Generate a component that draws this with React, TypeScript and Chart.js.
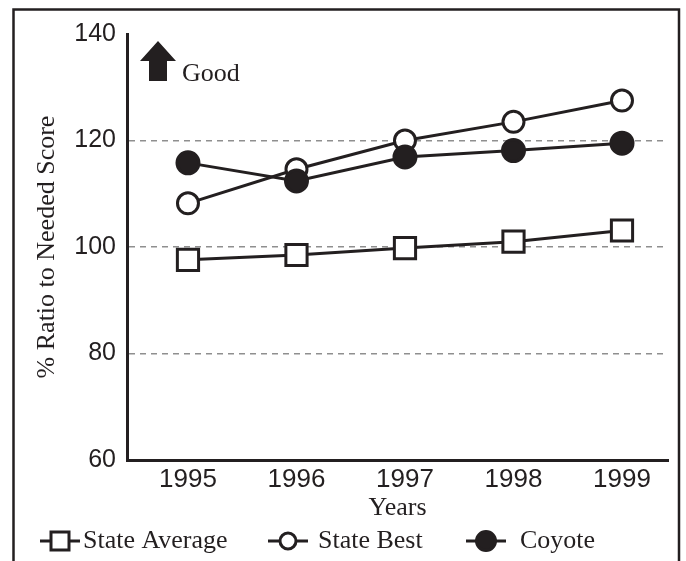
import { useEffect, useRef } from "react";
import { Chart, registerables } from "chart.js";

Chart.register(...registerables);

// ---- data ----
const years = [1995, 1996, 1997, 1998, 1999];
const stateAverage = [97.6, 98.5, 99.8, 101.0, 103.1];
const stateBest = [108.2, 114.6, 120.0, 123.5, 127.5];
const coyote = [115.8, 112.4, 116.9, 118.1, 119.5];
const yTicks = [60, 80, 100, 120, 140];
const gridValues = [80, 100, 120];
const seriesNames = ["State Average", "State Best", "Coyote"];
const yTitle = "% Ratio to Needed Score";
const xTitle = "Years";
const noteText = "Good";

const INK = "#231f20";
const SANS = "'Liberation Sans', Arial, sans-serif";
const SERIF = "'Liberation Serif', 'Times New Roman', serif";

const framePlugin = {
  id: "frameAndNote",
  beforeDraw(chart: any) {
    const ctx = chart.ctx;
    ctx.save();
    ctx.fillStyle = "#ffffff";
    ctx.fillRect(0, 0, chart.width, chart.height);
    ctx.restore();
  },
  afterDraw(chart: any) {
    const ctx = chart.ctx;
    ctx.save();
    // outer frame (bottom edge beyond the picture)
    ctx.strokeStyle = INK;
    ctx.lineWidth = 2.5;
    ctx.beginPath();
    ctx.moveTo(13.5, 600);
    ctx.lineTo(13.5, 9.5);
    ctx.lineTo(679, 9.5);
    ctx.lineTo(679, 600);
    ctx.stroke();
    // "Good" arrow
    ctx.fillStyle = INK;
    ctx.beginPath();
    ctx.moveTo(158, 41);
    ctx.lineTo(176, 61);
    ctx.lineTo(167, 61);
    ctx.lineTo(167, 81);
    ctx.lineTo(149, 81);
    ctx.lineTo(149, 61);
    ctx.lineTo(140, 61);
    ctx.closePath();
    ctx.fill();
    ctx.font = `26px ${SERIF}`;
    ctx.textBaseline = "alphabetic";
    ctx.textAlign = "left";
    ctx.fillText(noteText, 182, 81);

    // legend
    const cy = 541;
    const markerX = [40, 268, 466];
    const textX = [83, 318, 520];
    chart.data.datasets.forEach((ds: any, i: number) => {
      const mx = markerX[i];
      ctx.strokeStyle = INK;
      ctx.lineWidth = 3;
      ctx.beginPath();
      ctx.moveTo(mx, cy);
      ctx.lineTo(mx + 40, cy);
      ctx.stroke();
      const cx = mx + 20;
      ctx.fillStyle = ds.pointBackgroundColor;
      ctx.strokeStyle = ds.pointBorderColor;
      ctx.lineWidth = 3;
      ctx.beginPath();
      if (ds.pointStyle === "rect") {
        ctx.rect(cx - 9, cy - 9, 18, 18);
      } else {
        ctx.arc(cx, cy, ds.legendRadius, 0, Math.PI * 2);
      }
      ctx.fill();
      ctx.stroke();
      ctx.fillStyle = INK;
      ctx.font = `26px ${SERIF}`;
      ctx.textBaseline = "middle";
      ctx.fillText(ds.label, textX[i], cy);
    });
    ctx.restore();
  },
};

export default function App() {
  const ref = useRef<HTMLCanvasElement | null>(null);

  useEffect(() => {
    if (!ref.current) return;
    const toPoints = (vals: number[]) => years.map((yr, i) => ({ x: yr, y: vals[i] }));
    const chart = new Chart(ref.current, {
      type: "line",
      data: {
        datasets: [
          {
            label: seriesNames[0],
            data: toPoints(stateAverage),
            borderColor: INK,
            borderWidth: 3,
            pointStyle: "rect",
            pointRadius: 15,
            pointBorderWidth: 3,
            pointBackgroundColor: "#ffffff",
            pointBorderColor: INK,
            order: 2,
          } as any,
          {
            label: seriesNames[1],
            data: toPoints(stateBest),
            borderColor: INK,
            borderWidth: 3,
            pointStyle: "circle",
            pointRadius: 10.5,
            pointBorderWidth: 3,
            pointBackgroundColor: "#ffffff",
            pointBorderColor: INK,
            legendRadius: 8,
            order: 1,
          } as any,
          {
            label: seriesNames[2],
            data: toPoints(coyote),
            borderColor: INK,
            borderWidth: 3,
            pointStyle: "circle",
            pointRadius: 11,
            pointBorderWidth: 3,
            pointBackgroundColor: INK,
            pointBorderColor: INK,
            legendRadius: 9.5,
            order: 0,
          } as any,
        ],
      },
      options: {
        responsive: false,
        animation: false,
        clip: false as any,
        layout: { padding: { left: 0, top: 34, right: 18, bottom: 0 } },
        plugins: { legend: { display: false }, tooltip: { enabled: false } },
        scales: {
          x: {
            type: "linear",
            min: 1994.438,
            max: 1999.424,
            afterBuildTicks: (scale: any) => {
              scale.ticks = years.map((v) => ({ value: v }));
            },
            afterFit: (scale: any) => {
              scale.height = 101;
            },
            grid: { display: false, drawTicks: false },
            border: { display: true, color: INK, width: 3 },
            ticks: {
              color: INK,
              font: { family: SANS, size: 26 },
              padding: 4,
              autoSkip: false,
              maxRotation: 0,
              callback: (v: any) => String(v),
            },
            title: {
              display: true,
              text: xTitle,
              color: INK,
              font: { family: SERIF, size: 26, lineHeight: 1.2 },
              padding: { top: 0, bottom: 37 },
            },
          },
          y: {
            type: "linear",
            min: 60,
            max: 140,
            afterBuildTicks: (scale: any) => {
              scale.ticks = yTicks.map((v) => ({ value: v }));
            },
            afterFit: (scale: any) => {
              scale.width = 127;
            },
            grid: {
              drawTicks: false,
              lineWidth: 1.5,
              color: (c: any) =>
                c.tick && gridValues.includes(c.tick.value) ? "#8f8f8f" : "rgba(0,0,0,0)",
            },
            border: { display: true, color: INK, width: 3, dash: [6, 5] },
            ticks: {
              color: INK,
              font: { family: SANS, size: 25 },
              padding: 11,
              autoSkip: false,
              callback: (v: any) => String(v),
            },
            title: {
              display: true,
              text: yTitle,
              color: INK,
              font: { family: SERIF, size: 26, lineHeight: 1.2 },
              padding: { top: 32, bottom: 0 },
            },
          },
        },
      } as any,
      plugins: [framePlugin],
    });
    return () => chart.destroy();
  }, []);

  return (
    <div style={{ position: "absolute", left: 0, top: 0, width: 686, height: 561 }}>
      <canvas ref={ref} width={686} height={561} style={{ display: "block" }} />
    </div>
  );
}
